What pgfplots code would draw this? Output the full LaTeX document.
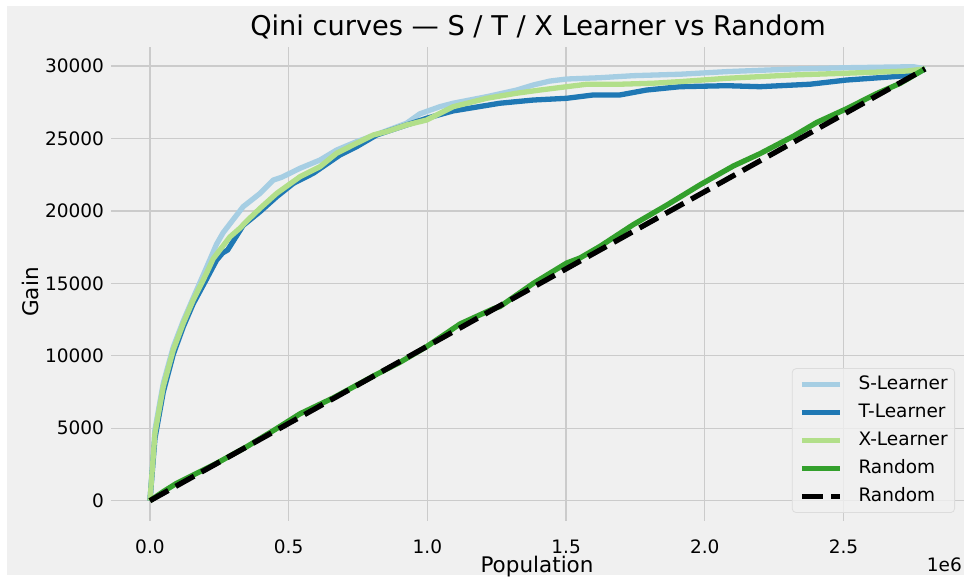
\documentclass[border=0pt]{standalone}
\usepackage{pgfplots}
\pgfplotsset{compat=1.18}
\usepackage{fontspec}
\setmainfont{DejaVu Sans}
\definecolor{bg}{HTML}{F0F0F0}
\definecolor{gridc}{HTML}{CBCBCB}
\definecolor{legc}{HTML}{DCDCDC}
\definecolor{sl}{HTML}{A6CEE3}
\definecolor{tl}{HTML}{1F78B4}
\definecolor{xl}{HTML}{B2DF8A}
\definecolor{rg}{HTML}{33A02C}
\begin{document}
\begin{tikzpicture}[x=1bp,y=1bp]
\useasboundingbox (0,0) rectangle (964,581);
\fill[white] (0,0) rectangle (964,581);
\fill[bg] (7,6) rectangle (964,575);
\begin{axis}[
  at={(111.2bp,60bp)}, anchor=south west,
  width=852.6bp, height=473.7bp, scale only axis,
  xmin=-0.1397, xmax=2.9337, ymin=-1400, ymax=31290,
  axis line style={draw=none},
  major tick length=0pt,
  xtick style={draw=none}, ytick style={draw=none},
  scaled ticks=false,
  grid=major,
  grid style={gridc, line width=1.3bp},
  xtick={0,0.5,1,1.5,2,2.5},
  xticklabels={0.0,0.5,1.0,1.5,2.0,2.5},
  ytick={0,5000,10000,15000,20000,25000,30000},
  yticklabels={0,5000,10000,15000,20000,25000,30000},
  xticklabel style={font=\fontsize{18.5bp}{22bp}\selectfont, inner sep=0pt, anchor=north, yshift=-18.5bp},
  yticklabel style={font=\fontsize{18.5bp}{22bp}\selectfont, inner sep=0pt, anchor=east, xshift=-7bp},
  no markers,
  every axis plot/.append style={line width=5.3bp, line join=round},
  legend cell align=left,
  legend style={at={(0.9897,0.0169)}, anchor=south east,
    fill=bg, fill opacity=0.8, text opacity=1, draw=legc, line width=0.8bp,
    rounded corners=4bp, inner xsep=7bp, inner ysep=7bp,
    row sep=10bp, column sep=16bp,
    font=\fontsize{18.5bp}{22bp}\selectfont,
    nodes={inner sep=0pt, text height=14bp, text depth=4bp}},
  legend image code/.code={\draw[#1] (0bp,0bp) -- (38bp,0bp);},
]
\addplot[sl] coordinates {
(0,0) (0.018,4900) (0.048,8100) (0.084,10600) (0.12,12400) (0.156,14000)
(0.204,16100) (0.24,17700) (0.264,18500) (0.3,19400) (0.336,20290) (0.397,21210)
(0.445,22130) (0.475,22320) (0.541,22940) (0.613,23510) (0.673,24200) (0.745,24780)
(0.829,25360) (0.925,26050) (0.973,26700) (1.045,27190) (1.093,27430) (1.214,27880)
(1.322,28340) (1.382,28690) (1.442,28960) (1.502,29100) (1.622,29190) (1.742,29330)
(1.911,29430) (2.079,29610) (2.319,29790) (2.511,29880) (2.752,29950) (2.794,29800)
};
\addlegendentry{S-Learner}
\addplot[tl] coordinates {
(0,0) (0.018,4300) (0.048,7500) (0.084,10100) (0.12,12000) (0.156,13600)
(0.204,15300) (0.24,16600) (0.262,17100) (0.28,17300) (0.336,19000) (0.397,19950)
(0.457,20980) (0.517,21900) (0.589,22600) (0.685,23860) (0.745,24430) (0.817,25240)
(0.925,25930) (0.997,26390) (1.093,26900) (1.262,27430) (1.382,27650) (1.502,27770)
(1.598,28000) (1.694,28000) (1.79,28340) (1.911,28570) (2.079,28640) (2.199,28570)
(2.379,28740) (2.511,29030) (2.68,29260) (2.752,29380) (2.794,29800)
};
\addlegendentry{T-Learner}
\addplot[xl] coordinates {
(0,0) (0.018,4650) (0.048,7870) (0.084,10400) (0.12,12240) (0.156,13850)
(0.204,15700) (0.228,16700) (0.264,17600) (0.288,18200) (0.324,18800) (0.349,19300)
(0.397,20180) (0.457,21210) (0.541,22360) (0.613,23050) (0.673,23980) (0.745,24670)
(0.805,25240) (0.853,25470) (0.925,25930) (0.997,26270) (1.093,27190) (1.214,27770)
(1.322,28120) (1.406,28340) (1.502,28570) (1.574,28740) (1.694,28740) (1.814,28810)
(1.911,28920) (2.079,29150) (2.319,29380) (2.511,29500) (2.728,29650) (2.794,29800)
};
\addlegendentry{X-Learner}
\addplot[rg] coordinates {
(0,0) (0.05,650) (0.096,1200) (0.24,2580) (0.349,3730) (0.45,4900) (0.541,6000)
(0.661,7100) (0.805,8600) (0.901,9550) (0.997,10630) (1.118,12200) (1.238,13250)
(1.262,13400) (1.382,15000) (1.502,16400) (1.55,16750) (1.622,17550) (1.742,19050)
(1.863,20400) (1.983,21800) (2.103,23100) (2.199,23950) (2.319,25150) (2.403,26100)
(2.511,27050) (2.62,28100) (2.704,28800) (2.794,29800)
};
\addlegendentry{Random}
\addplot[black, dash pattern=on 21bp off 8.5bp] coordinates {
(0,0) (2.794,29800)
};
\addlegendentry{Random}
\end{axis}
\node[font=\fontsize{27.2bp}{32bp}\selectfont] at (538,554) {Qini curves — S / T / X Learner vs Random};
\node[font=\fontsize{21.5bp}{26bp}\selectfont] at (537,14) {Population};
\node[font=\fontsize{21.5bp}{26bp}\selectfont, rotate=90] at (30,289) {Gain};
\node[font=\fontsize{18.5bp}{22bp}\selectfont, anchor=east, inner sep=0pt] at (962,16) {1e6};
\end{tikzpicture}
\end{document}
